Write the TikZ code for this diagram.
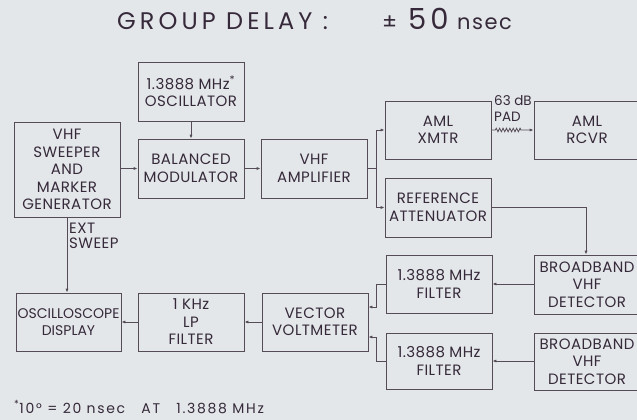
\documentclass[tikz,border=0pt]{standalone}
\usepackage{fontspec}
\setmainfont{Poppins}
\usetikzlibrary{arrows.meta,decorations.pathmorphing}
\definecolor{bg}{HTML}{E4E7EA}
\definecolor{ink}{HTML}{35293A}
\definecolor{wire}{HTML}{554C57}
\begin{document}
\begin{tikzpicture}[x=1pt,y=-1pt,
  blk/.style={draw=wire, line width=0.8pt, minimum width=106pt, minimum height=59pt,
    align=center, inner sep=0pt, text=ink, font=\fontsize{15}{17.5}\selectfont\addfontfeatures{LetterSpace=3}},
  lbl/.style={text=ink, inner sep=0pt, font=\fontsize{15}{15.5}\selectfont\addfontfeatures{LetterSpace=3}},
  ln/.style={draw=wire, line width=0.8pt},
  arr/.style={ln, -{Latex[length=4pt,width=3.2pt]}}]
\fill[bg] (0,0) rectangle (637,420);
\useasboundingbox (0,0) rectangle (637,420);
% title
\node[text=ink, inner sep=0pt, anchor=base west, font=\fontsize{24}{28}\selectfont\addfontfeatures{LetterSpace=17}] (t1) at (117,30) {GROUP DELAY :};
\node[text=ink, inner sep=0pt, anchor=base west, font=\fontsize{22}{24}\selectfont] (t2) at (382,30) {±};
\node[text=ink, inner sep=0pt, anchor=base west, font=\fontsize{29}{30}\selectfont\addfontfeatures{LetterSpace=14}] (t3) at (408,30) {50};
\node[text=ink, inner sep=0pt, anchor=base west, font=\fontsize{21}{24}\selectfont\addfontfeatures{LetterSpace=7}] (t4) at (457,30) {nsec};
% blocks
\node[blk] (osc) at (191,91.5) {1.3888 MHz\textsuperscript{*}\\OSCILLATOR};
\node[blk, minimum height=95pt] (sweep) at (67,169.5) {VHF\\SWEEPER\\AND\\MARKER\\GENERATOR};
\node[blk] (bal) at (191,168.5) {BALANCED\\MODULATOR};
\node[blk] (amp) at (314,168.5) {VHF\\AMPLIFIER};
\node[blk, minimum height=58pt] (xmtr) at (438,130) {AML\\XMTR};
\node[blk, minimum height=58pt] (rcvr) at (587,130) {AML\\RCVR};
\node[blk] (ref) at (438,207.5) {REFERENCE\\ATTENUATOR};
\node[blk] (bb1) at (587,284.5) {BROADBAND\\VHF\\DETECTOR};
\node[blk, minimum height=57pt] (bb2) at (587,361.5) {BROADBAND\\VHF\\DETECTOR};
\node[blk, minimum height=58pt] (f1) at (439,284) {1.3888 MHz\\FILTER};
\node[blk, minimum height=56pt] (f2) at (439,361) {1.3888 MHz\\FILTER};
\node[blk, minimum height=58pt] (vv) at (315,322) {VECTOR\\VOLTMETER};
\node[blk, minimum height=58pt] (lp) at (191,322) {1 KHz\\LP\\FILTER};
\node[blk, minimum width=105pt, minimum height=58pt, font=\fontsize{14}{17.5}\selectfont] (scope) at (68.5,322) {OSCILLOSCOPE\\DISPLAY};
% labels
\node[lbl, anchor=north west, align=left] (ext) at ([xshift=2pt,yshift=-5pt]sweep.south) {EXT\\SWEEP};
\node[lbl, anchor=north west, align=left, font=\fontsize{13.5}{16}\selectfont] (pad) at (494,95) {63 dB\\PAD};
\node[text=ink, inner sep=0pt, anchor=base west, font=\fontsize{14}{15}\selectfont\addfontfeatures{LetterSpace=12}] (note) at (14,413) {\textsuperscript{*}10° = 20 nsec\ \ \ AT\ \ \ 1.3888 MHz};
% connectors
\draw[arr] (osc) -- (bal);
\draw[arr] (sweep.east |- bal.west) -- (bal.west);
\draw[arr] (bal) -- (amp);
\coordinate (j1) at ([xshift=9pt]amp.east);
\draw[ln] (amp.east) -- (j1);
\draw[arr] (j1) |- (xmtr.west);
\draw[arr] (j1) |- (ref.west);
\draw[arr, decoration={zigzag, segment length=3.4pt, amplitude=1.8pt}]
  (xmtr.east) -- ++(4,0) decorate {-- ++(27,0)} -- (rcvr.west);
\draw[arr] (ref.east) -| ([xshift=-1pt]bb1.north);
\draw[arr] (bb1.west |- f1.east) -- (f1.east);
\draw[arr] (bb2.west |- f2.east) -- (f2.east);
\draw[arr] (f1.west) -- ++(-9,0) |- ([yshift=15pt]vv.east);
\draw[arr] (f2.west) -- ++(-9,0) |- ([yshift=-15pt]vv.east);
\draw[arr] (vv) -- (lp);
\draw[arr] (lp) -- (scope);
\draw[arr] (sweep.south) -- (sweep.south |- scope.north);
\end{tikzpicture}
\end{document}
